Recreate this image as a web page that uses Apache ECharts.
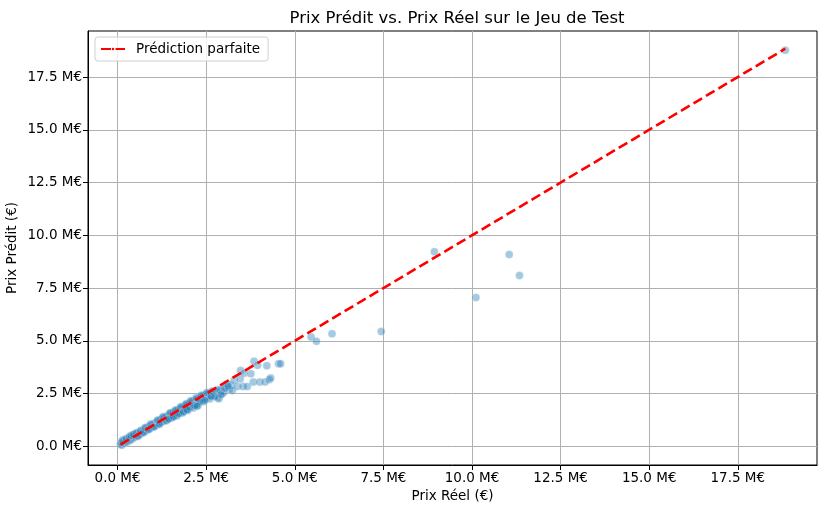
<!DOCTYPE html>
<html>
<head>
<meta charset="utf-8">
<script src="https://cdn.jsdelivr.net/npm/echarts@6/dist/echarts.min.js"></script>
<style>html,body{margin:0;padding:0;background:#fff}#c{width:825px;height:507px}</style>
</head>
<body>
<div id="c"></div>
<script>
// Values in millions of euros
const actualPrice = [
0.08,0.12,0.15,0.18,0.20,0.22,0.25,0.27,0.30,0.32,0.35,0.37,0.40,0.42,0.44,0.46,0.48,0.50,0.52,0.55,
0.57,0.60,0.62,0.64,0.67,0.70,0.72,0.75,0.77,0.80,0.82,0.85,0.87,0.90,0.92,0.95,0.97,1.00,1.02,1.05,
1.07,1.10,1.12,1.15,1.17,1.20,1.22,1.25,1.27,1.30,1.32,1.35,1.37,1.40,1.42,1.45,1.47,1.50,1.52,1.55,
1.57,1.60,1.62,1.65,1.67,1.70,1.72,1.75,1.77,1.80,1.82,1.85,1.87,1.90,1.92,1.95,1.97,2.00,2.02,2.05,
2.08,2.10,2.12,2.15,2.18,2.20,2.23,2.25,2.28,2.30,2.33,2.35,2.38,2.40,2.43,2.45,2.48,2.50,2.55,2.58,
2.62,2.65,2.70,2.72,2.78,2.82,2.86,2.90,2.95,3.00,3.05,3.10,3.15,3.20,3.24,3.29,3.38,3.46,3.47,3.54,
3.57,3.66,3.76,3.83,3.85,3.95,4.01,4.16,4.21,4.28,4.32,4.54,
0.10,0.14,0.24,0.33,0.38,0.45,0.53,0.58,0.65,0.73,0.78,0.88,0.93,1.03,1.13,1.18,1.28,1.38,1.48,1.53,
1.63,1.68,1.78,1.83,1.93,1.98,2.06,2.13,2.22,2.27,2.36,2.42,2.52,2.60,2.68,2.75,2.85,2.92,3.02,3.12,
1.44,1.58,1.72,1.86,2.04,2.18,2.32,2.46,2.64,1.96,2.24,
4.60,5.46,5.61,6.05,7.44,8.94,10.11,11.05,11.34,18.84
];
const predictedPrice = [
0.10,0.05,0.22,0.14,0.30,0.18,0.28,0.21,0.35,0.27,0.40,0.31,0.45,0.36,0.50,0.42,0.55,0.46,0.58,0.50,
0.62,0.55,0.66,0.58,0.72,0.64,0.78,0.70,0.83,0.74,0.88,0.80,0.92,0.84,0.98,0.89,1.03,0.93,1.08,0.98,
1.12,1.02,1.18,1.07,1.22,1.12,1.28,1.15,1.33,1.20,1.38,1.24,1.42,1.30,1.47,1.33,1.52,1.38,1.57,1.42,
1.62,1.46,1.66,1.50,1.70,1.55,1.76,1.58,1.80,1.62,1.86,1.68,1.90,1.72,1.95,1.76,2.00,1.80,2.05,1.85,
2.10,1.90,2.15,1.95,2.20,2.00,2.24,2.05,2.28,2.10,2.32,2.15,2.38,2.20,2.42,2.25,2.46,2.30,2.50,2.35,
2.55,2.40,2.58,2.42,2.62,2.30,2.26,2.65,2.50,2.57,2.80,2.97,2.70,2.90,2.65,3.13,2.84,3.20,3.60,2.84,
3.47,2.84,3.44,3.05,4.03,3.84,3.05,3.05,3.82,3.16,3.24,3.92,
0.18,0.30,0.38,0.46,0.52,0.58,0.65,0.48,0.75,0.66,0.90,0.80,1.06,0.92,1.25,1.05,1.40,1.22,1.60,1.35,
1.72,1.45,1.88,1.58,2.02,1.70,2.16,1.82,2.30,1.95,2.42,2.12,2.55,2.25,2.62,2.35,2.70,2.45,2.75,2.85,
1.30,1.40,1.56,1.64,1.86,1.94,2.12,2.18,2.38,1.74,1.90,
3.92,5.18,4.98,5.34,5.44,9.22,7.05,9.09,8.10,18.77
];
const lineEnds = [0.08, 18.84];
const tickValues = [0, 2.5, 5, 7.5, 10, 12.5, 15, 17.5];

const scatterData = actualPrice.map((v, i) => [v, predictedPrice[i]]);
const lineData = lineEnds.map(v => [v, v]);
const F = 'DejaVu Sans';
const fmt = v => v.toFixed(1) + ' M€';

const axisCommon = {
  type: 'value',
  nameLocation: 'middle',
  nameMoveOverlap: false,
  nameTextStyle: {fontFamily: F, fontSize: 13.5, color: '#000'},
  axisLine: {show: true, onZero: false, lineStyle: {color: '#000', width: 1}},
  axisTick: {show: true, length: 5, inside: false, customValues: tickValues, lineStyle: {color: '#000'}},
  axisLabel: {customValues: tickValues, formatter: fmt, fontFamily: F, fontSize: 13.5, color: '#000', margin: 6},
  splitLine: {show: true, lineStyle: {color: '#b0b0b0', width: 1}}
};

const chart = echarts.init(document.getElementById('c'));
chart.setOption({
  animation: false,
  backgroundColor: '#fff',
  title: {
    text: 'Prix Prédit vs. Prix Réel sur le Jeu de Test',
    left: 452, top: 5, textAlign: 'center',
    textStyle: {fontFamily: F, fontSize: 16.5, fontWeight: 'normal', color: '#000'}
  },
  legend: {
    left: 95, top: 37,
    data: ['Prédiction parfaite'],
    backgroundColor: 'rgba(255,255,255,0.8)',
    borderColor: '#d0d0d0', borderWidth: 1, borderRadius: 3,
    padding: [5, 8, 5, 5],
    itemWidth: 24, itemHeight: 3, itemGap: 8,
    textStyle: {fontFamily: F, fontSize: 13.5, color: '#000', padding: [0, 0, 0, 6]}
  },
  grid: {left: 88, right: 8, top: 31, bottom: 42, show: true, borderColor: '#000', borderWidth: 1, containLabel: false, outerBoundsMode: 'none'},
  xAxis: Object.assign({}, axisCommon, {
    name: 'Prix Réel (€)', nameGap: 24, min: -0.835, max: 19.735
  }),
  yAxis: Object.assign({}, axisCommon, {
    name: 'Prix Prédit (€)', nameGap: 69, min: -0.88, max: 19.68
  }),
  series: [
    {
      type: 'scatter',
      data: scatterData,
      symbolSize: 8,
      itemStyle: {color: 'rgba(31,119,180,0.5)', borderColor: 'rgba(255,255,255,0.6)', borderWidth: 0.6},
      z: 2
    },
    {
      name: 'Prédiction parfaite',
      type: 'line',
      data: lineData,
      symbol: 'none',
      legendIcon: 'path://M0,0H11V3H0Z M14,0H24V3H14Z',
      lineStyle: {color: '#ff0000', width: 2.6, type: [10, 4.5]},
      itemStyle: {color: '#ff0000'},
      z: 3
    }
  ]
});
</script>
</body>
</html>
